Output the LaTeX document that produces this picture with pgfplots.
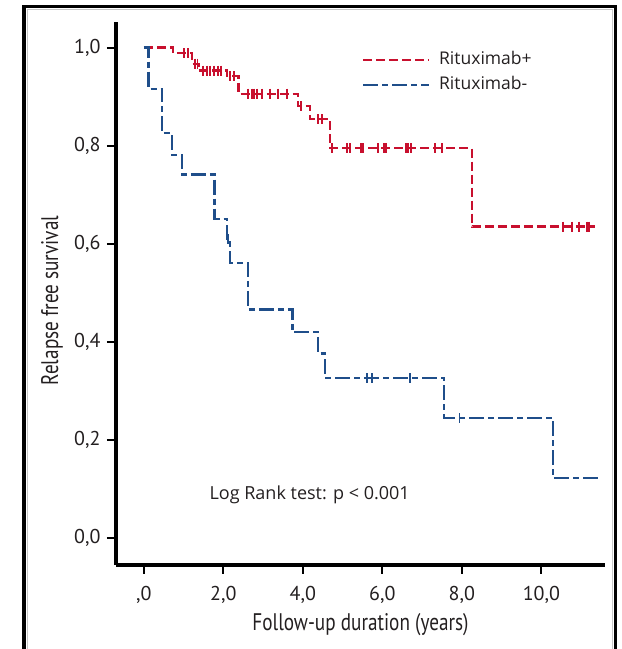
\documentclass[border=0pt]{standalone}
\usepackage{pgfplots}
\pgfplotsset{compat=1.18}
\usepackage{fontspec}
\setmainfont{PT Sans}
\newfontfamily\legfont{Open Sans}

\definecolor{rxred}{RGB}{200,16,46}
\definecolor{rxblue}{RGB}{31,78,138}
\definecolor{ink}{RGB}{35,31,32}

\begin{document}
\begin{tikzpicture}
\useasboundingbox (0pt,0pt) rectangle (622pt,649pt);
\begin{axis}[
    at={(116pt,84pt)}, anchor=south west,
    scale only axis,
    width=489pt, height=543pt,
    xmin=-0.70, xmax=11.6,
    ymin=-0.055, ymax=1.052,
    axis x line*=bottom, axis y line*=left,
    axis line style={line width=3.6pt, -},
    tick align=outside,
    major tick length=9pt,
    tick style={line width=2pt, black},
    xtick={0,2,4,6,8,10},
    xticklabels={{,0},{2,0},{4,0},{6,0},{8,0},{10,0}},
    ytick={0,0.2,0.4,0.6,0.8,1},
    yticklabels={{0,0},{0,2},{0,4},{0,6},{0,8},{1,0}},
    ticklabel style={font=\fontsize{20}{20}\selectfont, color=ink},
    xticklabel style={yshift=-9pt},
    yticklabel style={xshift=-3pt},
    xlabel={\scalebox{0.8}[1]{Follow-up duration (years)}},
    ylabel={\scalebox{0.8}[1]{Relapse free survival}},
    label style={font=\fontsize{24}{24}\selectfont, color=ink},
    xlabel style={at={(rel axis cs:0.5,-0.1197)}, anchor=base},
    ylabel style={at={(rel axis cs:-0.131,0.487)}, anchor=center},
    legend style={at={(rel axis cs:0.503,0.945)}, anchor=north west,
        draw=none, fill=none, inner sep=0pt, row sep=10pt, column sep=9pt,
        font=\legfont\fontsize{17.5}{17.5}\selectfont, text=ink,
        nodes={inner sep=0pt, text height=12pt, text depth=3pt}},
    legend cell align=left,
    legend image code/.code={\draw[#1, line width=2pt] (0pt,0pt) -- (66pt,0pt);},
]
% Rituximab+ survival steps
\addplot[const plot, color=rxred, line width=2.2pt, dash pattern=on 9pt off 4pt] coordinates {
    (0,1.0) (0.74,0.988) (1.21,0.967) (1.38,0.953) (2.09,0.942) (2.38,0.906)
    (3.88,0.880) (4.18,0.854) (4.68,0.795) (8.25,0.635) (11.34,0.635)
};
\addlegendentry{Rituximab+}
% Rituximab- survival steps
\addplot[const plot, color=rxblue, line width=2.2pt, dash pattern=on 15pt off 4pt on 6pt off 4pt] coordinates {
    (0,1.0) (0.12,0.916) (0.46,0.825) (0.71,0.781) (0.96,0.741) (1.78,0.651)
    (2.09,0.609) (2.17,0.561) (2.63,0.466) (3.74,0.420) (4.39,0.376) (4.56,0.326)
    (7.55,0.244) (10.30,0.122) (11.51,0.122)
};
\addlegendentry{Rituximab-}
% censored cases
\addplot[forget plot, only marks, mark=|, mark size=5pt, color=rxred, mark options={line width=1.9pt, solid}] coordinates {
    (1.00,0.988) (1.10,0.988)
    (1.29,0.967) (1.35,0.967)
    (1.49,0.953) (1.58,0.953) (1.67,0.953) (1.76,0.953) (1.86,0.953) (1.94,0.953)
    (2.17,0.942) (2.27,0.942)
    (2.61,0.906) (2.72,0.906) (2.78,0.906) (2.85,0.906) (2.97,0.906) (3.18,0.906) (3.37,0.906) (3.60,0.906)
    (3.95,0.880)
    (4.39,0.854) (4.48,0.854)
    (4.73,0.795) (5.11,0.795) (5.19,0.795) (5.46,0.795) (5.52,0.795) (5.90,0.795) (6.03,0.795)
    (6.09,0.795) (6.60,0.795) (6.65,0.795) (6.72,0.795) (7.32,0.795) (7.49,0.795)
    (10.55,0.635) (10.76,0.635) (10.95,0.635) (11.14,0.635) (11.20,0.635)
};
\addplot[forget plot, only marks, mark=|, mark size=5pt, color=rxblue, mark options={line width=1.9pt, solid}] coordinates {
    (2.12,0.609) (5.61,0.326) (5.73,0.326) (6.70,0.326) (7.94,0.244)
};
\node[anchor=base west, inner sep=0pt, font=\legfont\fontsize{18}{18}\selectfont, text=ink]
    at (axis cs:1.65,0.079) {Log Rank test: p < 0.001};
\end{axis}
% frame round the figure
\draw[gray!45, line width=1pt] (27.5pt,0pt) -- (27.5pt,639pt) -- (612pt,639pt) -- (612pt,0pt);
\draw[line width=3.6pt] (24pt,-5pt) -- (24pt,642.5pt) -- (615.5pt,642.5pt) -- (615.5pt,-5pt);
\end{tikzpicture}
\end{document}
